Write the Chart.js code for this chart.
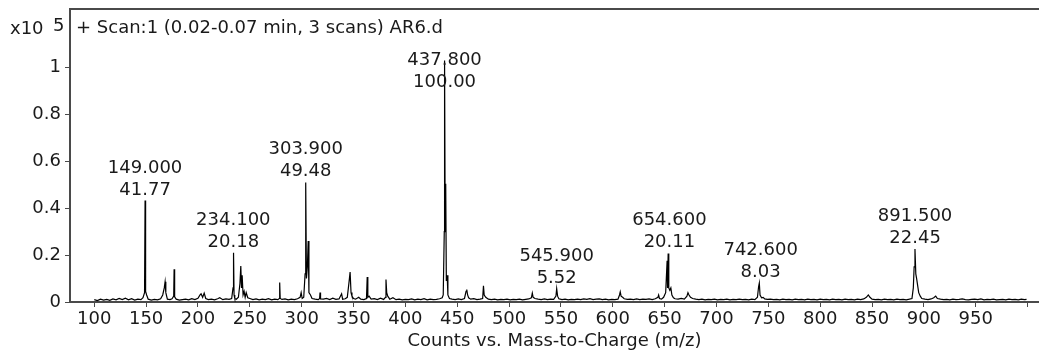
<!DOCTYPE html>
<html>
<head>
<meta charset="utf-8">
<script src="https://cdn.jsdelivr.net/npm/chart.js@4.4.1/dist/chart.umd.min.js"></script>
<style>
  html, body { margin: 0; padding: 0; background: #fff; }
  #wrap { width: 1039px; height: 350px; position: relative; }
</style>
</head>
<body>
<div id="wrap"><canvas id="ms"></canvas></div>
<script>
// profile spectrum, [m/z, counts x10^5]
const spectrum = [
  [100,0.010],[103,0.006],[106,0.012],[109,0.008],[112,0.011],[115,0.007],[118,0.013],[121,0.009],
  [124,0.015],[127,0.010],[130,0.016],[133,0.009],[136,0.014],[139,0.008],[142,0.012],[145,0.010],
  [147,0.018],[148.5,0.040],[149,0.433],[149.5,0.045],[150.5,0.030],[152,0.012],[155,0.008],[158,0.011],
  [161,0.009],[164,0.014],[166,0.030],[167.5,0.060],[168.3,0.086],[169,0.040],[170.5,0.012],[173,0.010],
  [175,0.014],[176.6,0.025],[177,0.140],[177.5,0.022],[179,0.012],[182,0.008],[185,0.010],[188,0.012],
  [191,0.009],[194,0.014],[197,0.010],[200,0.016],[202,0.030],[203,0.035],[204.5,0.020],[206,0.038],
  [207.5,0.015],[210,0.010],[213,0.012],[216,0.009],[219,0.014],[221,0.018],[224,0.010],[227,0.013],
  [230,0.011],[232.5,0.015],[233.8,0.060],[234.3,0.210],[234.8,0.030],[235.5,0.015],[237,0.012],[239,0.020],
  [240.5,0.080],[241.3,0.153],[242,0.060],[242.6,0.114],[243.5,0.030],[244.5,0.045],[245.5,0.020],[246.5,0.040],
  [248,0.018],[250,0.015],[253,0.010],[256,0.013],[259,0.009],[262,0.012],[265,0.010],[268,0.014],
  [271,0.009],[274,0.012],[277,0.010],[278.4,0.015],[278.8,0.083],[279.3,0.015],[281,0.011],[284,0.013],
  [287,0.009],[290,0.012],[293,0.010],[296,0.014],[298.5,0.020],[299.5,0.040],[300.5,0.015],[302,0.020],
  [303.3,0.120],[303.9,0.510],[304.6,0.100],[305.5,0.150],[306.3,0.260],[307,0.040],[308.5,0.030],[310,0.015],
  [313,0.012],[316,0.010],[317.3,0.015],[317.7,0.040],[318.2,0.013],[321,0.012],[324,0.015],[327,0.010],
  [330,0.016],[333,0.011],[336,0.013],[338.5,0.035],[339.5,0.012],[342,0.014],[344,0.020],[345.8,0.090],
  [346.7,0.128],[347.6,0.040],[348.5,0.025],[350,0.015],[352,0.012],[355,0.020],[357,0.012],[360,0.010],
  [362.5,0.015],[363.2,0.107],[363.8,0.020],[365,0.025],[367,0.012],[370,0.014],[373,0.010],[376,0.016],
  [379,0.011],[380.8,0.020],[381.3,0.096],[382,0.040],[383,0.025],[385,0.012],[388,0.018],[391,0.010],
  [394,0.012],[397,0.009],[400,0.011],[403,0.010],[406,0.013],[409,0.009],[412,0.012],[415,0.010],
  [418,0.014],[421,0.009],[424,0.012],[427,0.010],[430,0.011],[433,0.014],[435.5,0.018],[436.5,0.030],
  [437.5,0.300],[437.8,1.030],[438.4,0.300],[438.9,0.504],[439.5,0.090],[440.3,0.114],[441,0.030],[442.5,0.015],
  [445,0.012],[448,0.010],[451,0.013],[454,0.010],[457,0.015],[458.5,0.045],[459.2,0.053],[460,0.030],
  [461,0.018],[463,0.012],[466,0.014],[469,0.010],[472,0.012],[474.5,0.015],[475.3,0.069],[476,0.030],
  [477.5,0.020],[480,0.012],[483,0.010],[486,0.012],[489,0.009],[492,0.011],[495,0.010],[498,0.012],
  [501,0.009],[504,0.011],[507,0.010],[510,0.012],[513,0.009],[516,0.011],[519,0.013],[521.5,0.018],
  [522.4,0.038],[523.2,0.020],[525,0.015],[528,0.012],[531,0.010],[534,0.013],[537,0.010],[540,0.012],
  [543,0.011],[545.2,0.025],[545.9,0.057],[546.8,0.025],[548,0.014],[551,0.010],[554,0.012],[557,0.009],
  [560,0.011],[563,0.010],[566,0.012],[569,0.010],[572,0.013],[575,0.011],[578,0.014],[581,0.010],
  [584,0.012],[587,0.013],[590,0.010],[593,0.012],[596,0.009],[599,0.011],[602,0.010],[605,0.012],
  [606.5,0.030],[607.2,0.043],[608,0.025],[609.5,0.020],[611,0.014],[614,0.011],[617,0.012],[620,0.010],
  [623,0.013],[626,0.010],[629,0.012],[632,0.011],[635,0.013],[638,0.010],[641,0.014],[643.5,0.020],
  [644.2,0.030],[645,0.015],[647,0.012],[649,0.020],[651,0.040],[652.4,0.176],[652.8,0.060],[653.4,0.207],
  [654,0.060],[655,0.050],[656,0.060],[657,0.030],[658.5,0.018],[660,0.014],[663,0.012],[666,0.015],
  [669,0.012],[671.5,0.025],[672.5,0.040],[673.5,0.030],[675,0.020],[677,0.015],[680,0.012],[683,0.010],
  [686,0.012],[689,0.009],[692,0.011],[695,0.010],[698,0.012],[701,0.009],[704,0.011],[707,0.010],
  [710,0.012],[713,0.009],[716,0.011],[719,0.010],[722,0.012],[725,0.010],[728,0.011],[731,0.009],
  [734,0.012],[737,0.010],[739.5,0.020],[740.6,0.065],[741.3,0.081],[742,0.030],[743.5,0.018],[745,0.020],
  [746.5,0.013],[749,0.011],[752,0.012],[755,0.010],[758,0.011],[761,0.009],[764,0.012],[767,0.010],
  [770,0.011],[773,0.009],[776,0.012],[779,0.010],[782,0.011],[785,0.009],[788,0.012],[791,0.010],
  [794,0.011],[797,0.009],[800,0.012],[803,0.010],[806,0.011],[809,0.009],[812,0.012],[815,0.010],
  [818,0.011],[821,0.009],[824,0.012],[827,0.010],[830,0.011],[833,0.009],[836,0.012],[839,0.010],
  [842,0.013],[844.5,0.020],[846.4,0.030],[848,0.020],[850,0.012],[853,0.010],[856,0.011],[859,0.009],
  [862,0.012],[865,0.010],[868,0.011],[871,0.009],[874,0.012],[877,0.010],[880,0.011],[883,0.009],
  [886,0.012],[888.5,0.015],[889.8,0.060],[890.6,0.150],[891.4,0.226],[892.2,0.120],[893,0.100],[894,0.070],
  [895,0.040],[896.5,0.025],[898,0.015],[901,0.012],[904,0.010],[907,0.013],[909.5,0.018],[911.4,0.025],
  [913,0.015],[916,0.012],[919,0.010],[922,0.011],[925,0.009],[928,0.012],[931,0.010],[934,0.011],
  [937,0.013],[940,0.010],[943,0.009],[946,0.011],[949,0.012],[952,0.010],[955,0.013],[958,0.009],
  [961,0.011],[964,0.010],[967,0.012],[970,0.009],[973,0.010],[976,0.011],[979,0.009],[982,0.012],
  [985,0.010],[988,0.011],[991,0.009],[994,0.012],[997,0.010],[999,0.011]
];

// labelled peaks
const peakMz = [149.0, 234.1, 303.9, 437.8, 545.9, 654.6, 742.6, 891.5];
const peakMzText = ['149.000', '234.100', '303.900', '437.800', '545.900', '654.600', '742.600', '891.500'];
const peakPct = ['41.77', '20.18', '49.48', '100.00', '5.52', '20.11', '8.03', '22.45'];

const xTicks = [100, 150, 200, 250, 300, 350, 400, 450, 500, 550, 600, 650, 700, 750, 800, 850, 900, 950, 1000];
const yTicks = [0, 0.2, 0.4, 0.6, 0.8, 1];

const titleText = '+ Scan:1 (0.02-0.07 min, 3 scans) AR6.d';
const xTitle = 'Counts vs. Mass-to-Charge (m/z)';

const FONT = '"DejaVu Sans", sans-serif';
const TEXT = '#1a1a1a';
const AXIS = '#4a4a4a';

const annotations = {
  id: 'msAnnotations',
  afterDatasetsDraw(chart) {
    const ctx = chart.ctx;
    const xs = chart.scales.x;
    const ys = chart.scales.y;
    const area = chart.chartArea;

    ctx.save();
    // top frame line
    ctx.strokeStyle = AXIS;
    ctx.lineWidth = 2;
    ctx.beginPath();
    ctx.moveTo(area.left - 1, area.top);
    ctx.lineTo(chart.width, area.top);
    ctx.stroke();

    ctx.fillStyle = TEXT;
    ctx.font = `18px ${FONT}`;
    ctx.textBaseline = 'alphabetic';

    ctx.textAlign = 'left';
    ctx.fillText(titleText, area.left + 6, 33);
    ctx.fillText('x10', 10, 34);
    ctx.fillText('5', 53, 31);

    ctx.textAlign = 'center';
    ctx.fillText(xTitle, (area.left + area.right) / 2, 346);

    // peak labels, placed over the highest point near each labelled m/z
    peakMz.forEach((mz, i) => {
      let top = 0;
      spectrum.forEach(([m, v]) => {
        if (Math.abs(m - mz) <= 1.5 && v > top) top = v;
      });
      const px = xs.getPixelForValue(mz);
      const py = ys.getPixelForValue(top);
      let line2 = py - 6;
      let line1 = line2 - 22;
      if (line1 < 65) {
        line1 = 65;
        line2 = 87;
      }
      ctx.fillText(peakMzText[i], px, line1);
      ctx.fillText(peakPct[i], px, line2);
    });
    ctx.restore();
  }
};

new Chart(document.getElementById('ms'), {
  type: 'line',
  data: {
    datasets: [{
      data: spectrum.map(([m, v]) => ({x: m, y: v})),
      borderColor: '#000',
      borderWidth: 1.2,
      pointRadius: 0,
      tension: 0,
      fill: false
    }]
  },
  options: {
    responsive: true,
    maintainAspectRatio: false,
    animation: false,
    events: [],
    layout: {padding: {top: 9, right: 0, left: 0, bottom: 0}},
    plugins: {legend: {display: false}, tooltip: {enabled: false}, title: {display: false}},
    scales: {
      x: {
        type: 'linear',
        min: 76.6,
        max: 1011,
        afterBuildTicks(scale) { scale.ticks = xTicks.map(v => ({value: v})); },
        afterFit(scale) { scale.height = 48; scale.paddingLeft = 0; scale.paddingRight = 0; },
        ticks: {
          autoSkip: false,
          maxRotation: 0,
          padding: 2,
          color: TEXT,
          font: {family: FONT, size: 18},
          callback: v => (v === 1000 ? '' : String(v))
        },
        grid: {display: true, drawOnChartArea: false, drawTicks: true, tickLength: 5, color: AXIS},
        border: {display: true, color: AXIS, width: 2}
      },
      y: {
        min: 0,
        max: 1.25,
        afterBuildTicks(scale) { scale.ticks = yTicks.map(v => ({value: v})); },
        afterFit(scale) { scale.width = 70; scale.paddingTop = 0; scale.paddingBottom = 0; },
        ticks: {
          padding: 4,
          color: TEXT,
          font: {family: FONT, size: 18},
          callback: v => String(v)
        },
        grid: {display: true, drawOnChartArea: false, drawTicks: true, tickLength: 5, color: AXIS},
        border: {display: true, color: AXIS, width: 2}
      }
    }
  },
  plugins: [annotations]
});
</script>
</body>
</html>
